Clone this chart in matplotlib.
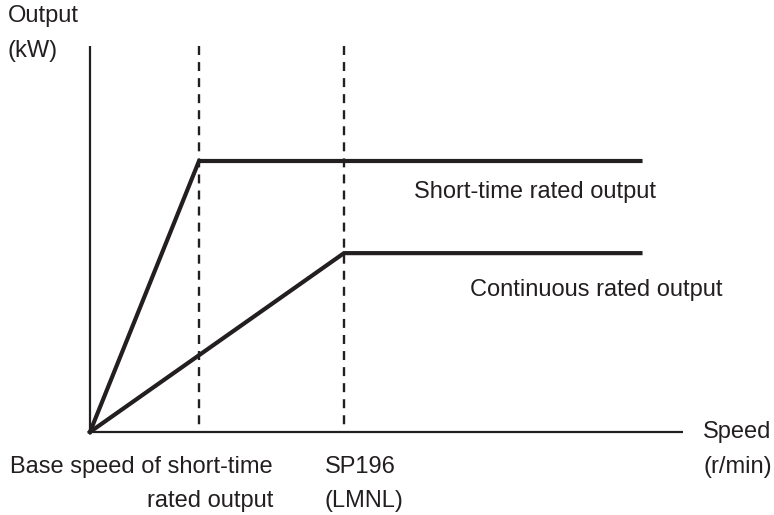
import matplotlib
matplotlib.use("Agg")
import matplotlib.pyplot as plt

plt.rcParams['font.family'] = ['Liberation Sans', 'DejaVu Sans']

# Speed (relative to base speed of short-time rating) and output (relative to short-time rating)
base_speed = 1.0
sp196_speed = 2.33
max_speed = 5.05
speed_short = [0.0, base_speed, max_speed]
output_short = [0.0, 1.0, 1.0]
speed_cont = [0.0, sp196_speed, max_speed]
output_cont = [0.0, 0.66, 0.66]
marker_speeds = [base_speed, sp196_speed]

axis_x_end = 5.44
axis_y_end = 1.424

fig = plt.figure(figsize=(7.74, 5.15), dpi=100)
ax = fig.add_axes([0, 0, 1, 1])
ax.set_xlim(-0.8257, 6.2752)
ax.set_ylim(-0.3063, 1.5941)
ax.axis('off')

ink = '#231f20'

# axes
ax.plot([0, axis_x_end], [0, 0], color=ink, lw=1.6, solid_capstyle='butt')
ax.plot([0, 0], [0, axis_y_end], color=ink, lw=1.6, solid_capstyle='butt')

# reference speeds (dashed guides, drawn top-down so the pattern starts at the top)
for s in marker_speeds:
    ax.plot([s, s], [axis_y_end, 0], color=ink, lw=1.7, linestyle=(0, (3.8, 3.0)))

# output curves
ax.plot(speed_short, output_short, color=ink, lw=3.0, solid_joinstyle='miter')
ax.plot(speed_cont, output_cont, color=ink, lw=3.0, solid_joinstyle='miter')

fs = 17
ax.text(-0.75, 1.535, 'Output', fontsize=fs, ha='left', va='center', color=ink)
ax.text(-0.76, 1.405, '(kW)', fontsize=fs, ha='left', va='center', color=ink)
ax.text(2.97, 0.885, 'Short-time rated output', fontsize=fs, ha='left', va='center', color=ink)
ax.text(3.49, 0.525, 'Continuous rated output', fontsize=fs, ha='left', va='center', color=ink)
ax.text(5.625, 0.0, 'Speed', fontsize=fs, ha='left', va='center', color=ink)
ax.text(5.625, -0.128, '(r/min)', fontsize=fs, ha='left', va='center', color=ink)
ax.text(1.68, -0.128, 'Base speed of short-time', fontsize=fs, ha='right', va='center', color=ink)
ax.text(1.68, -0.253, 'rated output', fontsize=fs, ha='right', va='center', color=ink)
ax.text(2.155, -0.128, 'SP196', fontsize=fs, ha='left', va='center', color=ink)
ax.text(2.155, -0.253, '(LMNL)', fontsize=fs, ha='left', va='center', color=ink)

fig.savefig('out.png', dpi=100)
